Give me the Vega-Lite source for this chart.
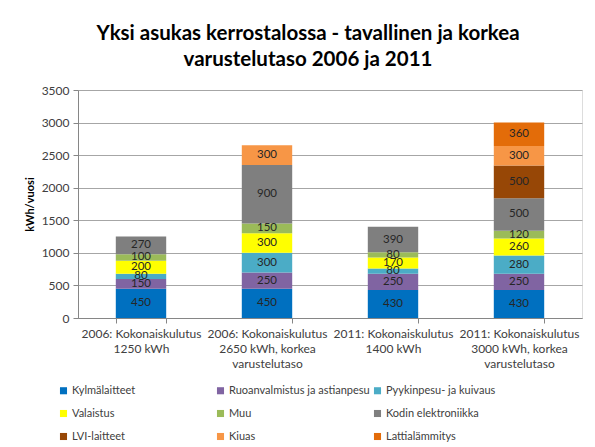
{
  "$schema": "https://vega.github.io/schema/vega-lite/v6.json",
  "width": 504,
  "height": 228,
  "autosize": "none",
  "padding": {"left": 78, "top": 90, "right": 13, "bottom": 129},
  "background": "white",
  "title": {
    "text": ["Yksi asukas kerrostalossa - tavallinen ja korkea", "varustelutaso 2006 ja 2011"],
    "font": "Lato",
    "fontSize": 20.5,
    "fontWeight": "bold",
    "color": "#000000",
    "anchor": "middle",
    "dx": -22,
    "offset": 14,
    "lineHeight": 26
  },
  "data": {
    "values": [
      {"cat": "2006: Kokonaiskulutus|1250 kWh", "series": "Kylmälaitteet", "k": 1, "kwh": 450},
      {"cat": "2006: Kokonaiskulutus|1250 kWh", "series": "Ruoanvalmistus ja astianpesu", "k": 2, "kwh": 150},
      {"cat": "2006: Kokonaiskulutus|1250 kWh", "series": "Pyykinpesu- ja kuivaus", "k": 3, "kwh": 80},
      {"cat": "2006: Kokonaiskulutus|1250 kWh", "series": "Valaistus", "k": 4, "kwh": 200},
      {"cat": "2006: Kokonaiskulutus|1250 kWh", "series": "Muu", "k": 5, "kwh": 100},
      {"cat": "2006: Kokonaiskulutus|1250 kWh", "series": "Kodin elektroniikka", "k": 6, "kwh": 270},
      {"cat": "2006: Kokonaiskulutus|2650 kWh, korkea|varustelutaso", "series": "Kylmälaitteet", "k": 1, "kwh": 450},
      {"cat": "2006: Kokonaiskulutus|2650 kWh, korkea|varustelutaso", "series": "Ruoanvalmistus ja astianpesu", "k": 2, "kwh": 250},
      {"cat": "2006: Kokonaiskulutus|2650 kWh, korkea|varustelutaso", "series": "Pyykinpesu- ja kuivaus", "k": 3, "kwh": 300},
      {"cat": "2006: Kokonaiskulutus|2650 kWh, korkea|varustelutaso", "series": "Valaistus", "k": 4, "kwh": 300},
      {"cat": "2006: Kokonaiskulutus|2650 kWh, korkea|varustelutaso", "series": "Muu", "k": 5, "kwh": 150},
      {"cat": "2006: Kokonaiskulutus|2650 kWh, korkea|varustelutaso", "series": "Kodin elektroniikka", "k": 6, "kwh": 900},
      {"cat": "2006: Kokonaiskulutus|2650 kWh, korkea|varustelutaso", "series": "Kiuas", "k": 8, "kwh": 300},
      {"cat": "2011: Kokonaiskulutus|1400 kWh", "series": "Kylmälaitteet", "k": 1, "kwh": 430},
      {"cat": "2011: Kokonaiskulutus|1400 kWh", "series": "Ruoanvalmistus ja astianpesu", "k": 2, "kwh": 250},
      {"cat": "2011: Kokonaiskulutus|1400 kWh", "series": "Pyykinpesu- ja kuivaus", "k": 3, "kwh": 80},
      {"cat": "2011: Kokonaiskulutus|1400 kWh", "series": "Valaistus", "k": 4, "kwh": 170},
      {"cat": "2011: Kokonaiskulutus|1400 kWh", "series": "Muu", "k": 5, "kwh": 80},
      {"cat": "2011: Kokonaiskulutus|1400 kWh", "series": "Kodin elektroniikka", "k": 6, "kwh": 390},
      {"cat": "2011: Kokonaiskulutus|3000 kWh, korkea|varustelutaso", "series": "Kylmälaitteet", "k": 1, "kwh": 430},
      {"cat": "2011: Kokonaiskulutus|3000 kWh, korkea|varustelutaso", "series": "Ruoanvalmistus ja astianpesu", "k": 2, "kwh": 250},
      {"cat": "2011: Kokonaiskulutus|3000 kWh, korkea|varustelutaso", "series": "Pyykinpesu- ja kuivaus", "k": 3, "kwh": 280},
      {"cat": "2011: Kokonaiskulutus|3000 kWh, korkea|varustelutaso", "series": "Valaistus", "k": 4, "kwh": 260},
      {"cat": "2011: Kokonaiskulutus|3000 kWh, korkea|varustelutaso", "series": "Muu", "k": 5, "kwh": 120},
      {"cat": "2011: Kokonaiskulutus|3000 kWh, korkea|varustelutaso", "series": "Kodin elektroniikka", "k": 6, "kwh": 500},
      {"cat": "2011: Kokonaiskulutus|3000 kWh, korkea|varustelutaso", "series": "LVI-laitteet", "k": 7, "kwh": 500},
      {"cat": "2011: Kokonaiskulutus|3000 kWh, korkea|varustelutaso", "series": "Kiuas", "k": 8, "kwh": 300},
      {"cat": "2011: Kokonaiskulutus|3000 kWh, korkea|varustelutaso", "series": "Lattialämmitys", "k": 9, "kwh": 360}
    ]
  },
  "encoding": {
    "x": {
      "field": "cat",
      "type": "nominal",
      "sort": null,
      "scale": {"paddingInner": 0.6, "paddingOuter": 0.3},
      "axis": {
        "title": null,
        "labelAngle": 0,
        "labelExpr": "split(datum.label, '|')",
        "labelFont": "Lato",
        "labelFontSize": 12,
        "labelColor": "#404040",
        "labelLineHeight": 15,
        "labelPadding": 5,
        "tickBand": "extent",
        "tickColor": "#868686",
        "tickSize": 5,
        "domainColor": "#868686"
      }
    },
    "y": {
      "field": "kwh",
      "type": "quantitative",
      "stack": "zero",
      "scale": {"domain": [0, 3500]},
      "axis": {
        "title": "kWh/vuosi",
        "titleFont": "Lato",
        "titleFontSize": 11,
        "titleFontWeight": "bold",
        "titleColor": "#000000",
        "titlePadding": 6,
        "format": "d",
        "values": [0, 500, 1000, 1500, 2000, 2500, 3000, 3500],
        "labelFont": "Lato",
        "labelFontSize": 12,
        "labelColor": "#404040",
        "labelPadding": 4,
        "tickColor": "#868686",
        "tickSize": 5,
        "domainColor": "#868686",
        "gridColor": "#a6a6a6",
        "gridWidth": 1
      }
    },
    "order": {"field": "k", "type": "quantitative"}
  },
  "layer": [
    {
      "mark": {"type": "bar"},
      "encoding": {
        "color": {
          "field": "series",
          "type": "nominal",
          "scale": {
            "domain": ["Kylmälaitteet", "Ruoanvalmistus ja astianpesu", "Pyykinpesu- ja kuivaus", "Valaistus", "Muu", "Kodin elektroniikka", "LVI-laitteet", "Kiuas", "Lattialämmitys"],
            "range": ["#0070C0", "#8064A2", "#4BACC6", "#FFFF00", "#9BBB59", "#7F7F7F", "#974706", "#F79646", "#E36C09"]
          },
          "legend": {
            "title": null,
            "orient": "none",
            "legendX": -20,
            "legendY": 295,
            "direction": "horizontal",
            "columns": 3,
            "gridAlign": "all",
            "columnPadding": 2,
            "rowPadding": 11,
            "symbolType": "square",
            "symbolSize": 50,
            "symbolStrokeWidth": 0,
            "labelFont": "Lato",
            "labelFontSize": 11,
            "labelColor": "#404040",
            "labelOffset": 3,
            "labelLimit": 300
          }
        }
      }
    },
    {
      "mark": {"type": "text", "font": "Lato", "fontSize": 11.5, "color": "#262626", "baseline": "middle"},
      "encoding": {
        "y": {"field": "kwh", "type": "quantitative", "stack": "zero", "bandPosition": 0.5},
        "text": {"field": "kwh", "type": "quantitative"}
      }
    }
  ]
}
